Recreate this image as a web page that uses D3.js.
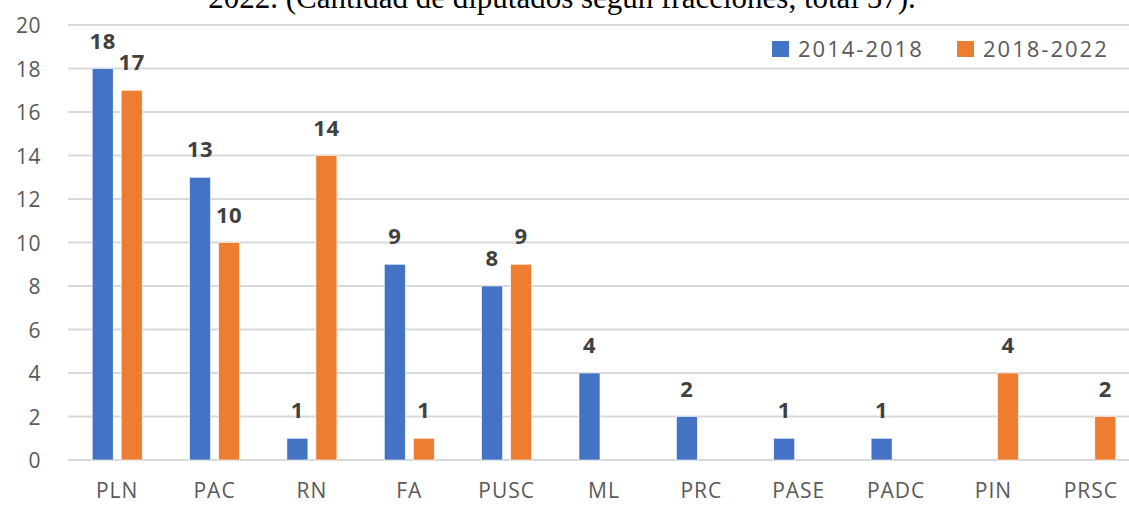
<!DOCTYPE html>
<html><head><meta charset="utf-8">
<script src="https://cdn.jsdelivr.net/npm/d3@7"></script>
<style>html,body{margin:0;padding:0;background:#fff;overflow:hidden}</style>
</head><body>
<script>
const categories = ["PLN","PAC","RN","FA","PUSC","ML","PRC","PASE","PADC","PIN","PRSC"];
const series1Name = "2014-2018";
const series2Name = "2018-2022";
const series1 = [18,13,1,9,8,4,2,1,1,0,0];
const series2 = [17,10,14,1,9,0,0,0,0,4,2];
const yTicks = [0,2,4,6,8,10,12,14,16,18,20];
const titleText = "2022. (Cantidad de diputados según fracciones, total 57).";

const W = 1129, H = 505;
const svg = d3.select("body").append("svg").attr("width", W).attr("height", H);
const font = "'Open Sans', sans-serif";

const x = d3.scaleBand().domain(categories).range([68.5, 1139.5]).padding(0);
const y = d3.scaleLinear().domain([0,20]).range([460, 25]);

// title (cut off at top, as in the reference)
svg.append("text").attr("x", 562).attr("y", 8).attr("text-anchor","middle")
  .attr("font-family","'Liberation Serif', 'Times New Roman', serif").attr("font-size",31)
  .attr("fill","#000").text(titleText);

// gridlines
svg.append("g").selectAll("line").data(yTicks).join("line")
  .attr("x1", 68).attr("x2", W).attr("y1", d=>y(d)).attr("y2", d=>y(d))
  .attr("stroke","#d9d9d9").attr("stroke-width",2);

// y axis labels
const yAxis = d3.axisLeft(y).tickValues(yTicks).tickSize(0).tickPadding(0);
const gy = svg.append("g").attr("transform","translate(41,0)").call(yAxis);
gy.select(".domain").remove();
gy.selectAll("text").attr("font-family",font).attr("font-size",21).attr("fill","#595959")
  .attr("dy","0.36em").attr("letter-spacing","0.5px");

// x axis labels
const xAxis = d3.axisBottom(x).tickSize(0).tickPadding(0);
const gx = svg.append("g").attr("transform","translate(0,481)").call(xAxis);
gx.select(".domain").remove();
gx.selectAll("text").attr("font-family",font).attr("font-size",21).attr("fill","#595959")
  .attr("dy","0.8em").attr("letter-spacing","1px");

const bw = 21, off = 14.5;
const data = categories.map((c,i)=>({c, a: series1[i], b: series2[i]}));
const g = svg.append("g");
function drawSeries(key, color, dx){
  const sel = data.filter(d=>d[key] > 0);
  g.selectAll("rect."+key).data(sel).join("rect").attr("class",key)
    .attr("x", d=>x(d.c)+x.bandwidth()/2+dx-bw/2).attr("width", bw)
    .attr("y", d=>y(d[key])).attr("height", d=>y(0)-y(d[key]))
    .attr("fill", color).attr("stroke","#fff").attr("stroke-width",0.6);
  g.selectAll("text."+key).data(sel).join("text").attr("class",key)
    .attr("x", d=>x(d.c)+x.bandwidth()/2+dx).attr("y", d=>y(d[key])-20)
    .attr("text-anchor","middle").attr("font-family",font).attr("font-weight","bold")
    .attr("font-size",22).attr("letter-spacing","0.5px").attr("fill","#404040").text(d=>d[key]);
}
drawSeries("a","#4472C4",-off);
drawSeries("b","#ED7D31",off);

// legend
const leg = svg.append("g");
[[series1Name,"#4472C4",772],[series2Name,"#ED7D31",957]].forEach(([t,c,lx])=>{
  leg.append("rect").attr("x",lx).attr("y",41).attr("width",17).attr("height",16).attr("fill",c);
  leg.append("text").attr("x",lx+26).attr("y",57).attr("font-family",font).attr("font-size",22)
    .attr("fill","#595959").attr("letter-spacing","2px").text(t);
});
</script>
</body></html>
